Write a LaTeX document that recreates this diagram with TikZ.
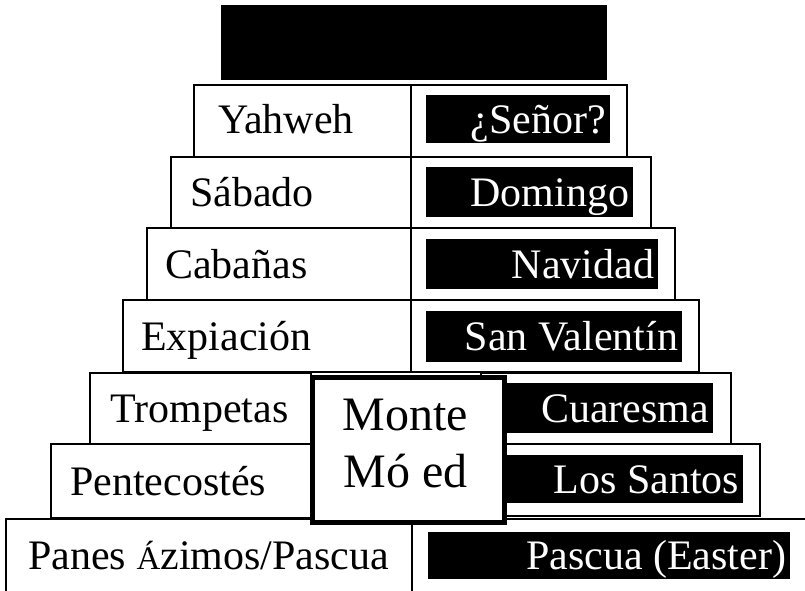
\documentclass[tikz,border=0pt]{standalone}
\usepackage{fontspec}
\setmainfont{Liberation Serif}
\usepackage{tikz}

\begin{document}
\begin{tikzpicture}[x=1pt, y=-1pt,
    cell/.style={draw, fill=white, line width=1.8pt, rectangle, inner sep=0pt, anchor=north west},
    blk/.style={fill=black, text=white, inner xsep=4pt, inner ysep=0pt, anchor=north west, align=flush right,
                text height=30pt, text depth=2pt, font=\fontsize{42}{50}\selectfont},
    lbl/.style={inner sep=0pt, anchor=base west, font=\fontsize{42}{50}\selectfont},
    mnt/.style={inner sep=0pt, anchor=base, font=\fontsize{48}{57}\selectfont}]

        \useasboundingbox (0,0) rectangle (805,591);

        % Top block
        \node[blk, minimum width=386pt, minimum height=75pt] (top) at (221,5) {};

        % Rows of the stair, left and right halves
        \node[cell, minimum width=217pt, minimum height=72pt] (l1) at (193,84) {};
        \node[cell, minimum width=216pt, minimum height=72pt] (r1) at (410,84) {};
        \node[cell, minimum width=240pt, minimum height=71pt] (l2) at (170,156) {};
        \node[cell, minimum width=240pt, minimum height=71pt] (r2) at (410,156) {};
        \node[cell, minimum width=264pt, minimum height=72pt] (l3) at (146,227) {};
        \node[cell, minimum width=264pt, minimum height=72pt] (r3) at (410,227) {};
        \node[cell, minimum width=288pt, minimum height=72pt] (l4) at (122,299) {};
        \node[cell, minimum width=288pt, minimum height=72pt] (r4) at (410,299) {};
        \node[cell, minimum width=221pt, minimum height=71pt] (l5) at (89,372) {};
        \node[cell, minimum width=250pt, minimum height=71pt] (r5) at (480,372) {};
        \node[cell, minimum width=260pt, minimum height=74pt] (l6) at (50,443) {};
        \node[cell, minimum width=279pt, minimum height=72pt] (r6) at (480,443) {};

        % Bottom row, runs off the page
        \draw[line width=1.8pt] (6,591) -- (6,519) -- (805,519);
        \draw[line width=1.8pt] (412,519) -- (412,591);

        % Mountain box in the middle
        \node[cell, line width=5pt, minimum width=192pt, minimum height=145pt] (mbox) at (309.5,374.5) {};
        \node[mnt] (mt1) at (405.5,430) {Monte};
        \node[mnt] (mt2) at (405.5,487) {Mó ed};

        % Left labels
        \node[lbl] (yah) at (218,133) {Yahweh};
        \node[lbl] (sab) at (190,206) {Sábado};
        \node[lbl] (cab) at (165,278) {Cabañas};
        \node[lbl] (exp) at (141,350) {Expiación};
        \node[lbl] (tro) at (110,422) {Trompetas};
        \node[lbl] (pen) at (70,495) {Pentecostés};
        \node[lbl] (pan) at (28,569.5) {Panes {\fontsize{33}{40}\selectfont Á}zimos/Pascua};

        % Right labels, white on black
        \node[blk, minimum width=184pt, minimum height=48pt, text width=176pt] (sen) at (426,95) {¿Señor?};
        \node[blk, minimum width=207pt, minimum height=50pt, text width=199pt] (dom) at (426,167) {Domingo};
        \node[blk, minimum width=232pt, minimum height=50pt, text width=224pt] (nav) at (426,239) {Navidad};
        \node[blk, minimum width=256pt, minimum height=51pt, text width=248pt] (val) at (426,311) {San Valentín};
        \node[blk, minimum width=207pt, minimum height=50pt, text width=199pt] (cua) at (506,383) {Cuaresma};
        \node[blk, minimum width=237pt, minimum height=48pt, text width=229pt] (san) at (506,455) {Los Santos};
        \node[blk, minimum width=362pt, minimum height=47pt, text width=354pt] (eas) at (428,532) {Pascua (Easter)};
        \end{tikzpicture}
\end{document}
